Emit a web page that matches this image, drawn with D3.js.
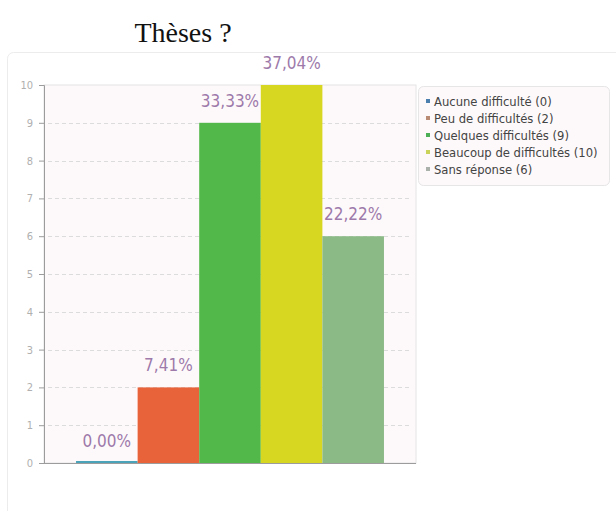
<!DOCTYPE html>
<html>
<head>
<meta charset="utf-8">
<script src="https://cdn.jsdelivr.net/npm/d3@7"></script>
<style>
  body { margin: 0; background: #fff; }
</style>
</head>
<body>
<div id="chart"></div>
<script>
// données
var categories = ["Aucune difficulté", "Peu de difficultés", "Quelques difficultés", "Beaucoup de difficultés", "Sans réponse"];
var effectifs = [0, 2, 9, 10, 6];
var pourcentages = ["0,00%", "7,41%", "33,33%", "37,04%", "22,22%"];
var couleurs = ["#4aa3b8", "#e9633a", "#52b84a", "#d7d620", "#8cba87"];
var couleursLegende = ["#4a7fae", "#b98a74", "#4cae55", "#c9d35a", "#aab0aa"];
var ticksY = [0, 1, 2, 3, 4, 5, 6, 7, 8, 9, 10];

var width = 616, height = 511;
var plot = {left: 44, right: 416, top: 85, bottom: 463};

var svg = d3.select("#chart").append("svg")
    .attr("width", width)
    .attr("height", height);

// titre
svg.append("text")
    .attr("x", 183)
    .attr("y", 42)
    .attr("text-anchor", "middle")
    .style("font-family", "'Liberation Serif', serif")
    .style("font-size", "28px")
    .style("fill", "#111")
    .text("Thèses ?");

// cadre du graphique
svg.append("rect")
    .attr("x", 7.5).attr("y", 52.5)
    .attr("width", 640).attr("height", 520)
    .attr("rx", 6)
    .attr("fill", "#fff")
    .attr("stroke", "#ececec");

// fond de la zone de tracé
svg.append("rect")
    .attr("x", plot.left).attr("y", plot.top)
    .attr("width", plot.right - plot.left)
    .attr("height", plot.bottom - plot.top)
    .attr("fill", "#fdf9fa")
    .attr("stroke", "#e4e4e4");

var x = d3.scaleBand()
    .domain(categories)
    .range([plot.left, plot.right])
    .paddingInner(0)
    .paddingOuter(0.52);

var y = d3.scaleLinear()
    .domain([0, 10])
    .range([plot.bottom, plot.top]);

// grille pointillée
svg.append("g")
    .selectAll("line")
    .data(ticksY.slice(1, -1))
    .enter().append("line")
    .attr("x1", plot.left + 4)
    .attr("x2", plot.right - 4)
    .attr("y1", function(d) { return Math.round(y(d)) + 0.5; })
    .attr("y2", function(d) { return Math.round(y(d)) + 0.5; })
    .attr("stroke", "#dcdcdc")
    .attr("stroke-dasharray", "4,3");

// axe Y
var axeY = svg.append("g")
    .attr("transform", "translate(" + plot.left + ",0)")
    .call(d3.axisLeft(y).tickValues(ticksY).tickSize(5).tickPadding(6));
axeY.select(".domain").attr("stroke", "#9c9c9c");
axeY.selectAll(".tick line").attr("stroke", "#9c9c9c");
axeY.selectAll("text")
    .style("font-family", "'DejaVu Sans Condensed', 'DejaVu Sans', sans-serif")
    .style("font-size", "11px")
    .attr("fill", "#b0b0b0");

// barres
svg.append("g")
    .selectAll("rect")
    .data(effectifs)
    .enter().append("rect")
    .attr("x", function(d, i) { return x(categories[i]); })
    .attr("y", function(d) { return Math.min(y(d), y(0) - 2); })
    .attr("width", x.bandwidth())
    .attr("height", function(d) { return Math.max(y(0) - y(d), 2); })
    .attr("fill", function(d, i) { return couleurs[i]; });

// axe X (ligne de base)
svg.append("line")
    .attr("x1", plot.left).attr("x2", plot.right)
    .attr("y1", y(0) + 0.5).attr("y2", y(0) + 0.5)
    .attr("stroke", "#9c9c9c");

// étiquettes de pourcentage
svg.append("g")
    .selectAll("text")
    .data(effectifs)
    .enter().append("text")
    .attr("x", function(d, i) { return x(categories[i]) + x.bandwidth() / 2; })
    .attr("y", function(d) { return y(d) - 16; })
    .attr("text-anchor", "middle")
    .style("font-family", "'DejaVu Sans Condensed', 'DejaVu Sans', sans-serif")
    .style("font-size", "17px")
    .attr("fill", "#9d7aaa")
    .text(function(d, i) { return pourcentages[i]; });

// légende
var legende = svg.append("g");
legende.append("rect")
    .attr("x", 418.5).attr("y", 86.5)
    .attr("width", 191).attr("height", 99)
    .attr("rx", 5)
    .attr("fill", "#fdf9fa")
    .attr("stroke", "#e6e6e6");

var items = legende.selectAll("g.item")
    .data(categories)
    .enter().append("g")
    .attr("class", "item")
    .attr("transform", function(d, i) { return "translate(426," + (101 + i * 17) + ")"; });

items.append("rect")
    .attr("x", 0).attr("y", -2)
    .attr("width", 4).attr("height", 4)
    .attr("fill", function(d, i) { return couleursLegende[i]; });

items.append("text")
    .attr("x", 8)
    .attr("dy", "0.35em")
    .style("font-family", "'DejaVu Sans Condensed', 'DejaVu Sans', sans-serif")
    .style("font-size", "12.9px")
    .attr("fill", "#444")
    .text(function(d, i) { return d + " (" + effectifs[i] + ")"; });
</script>
</body>
</html>
